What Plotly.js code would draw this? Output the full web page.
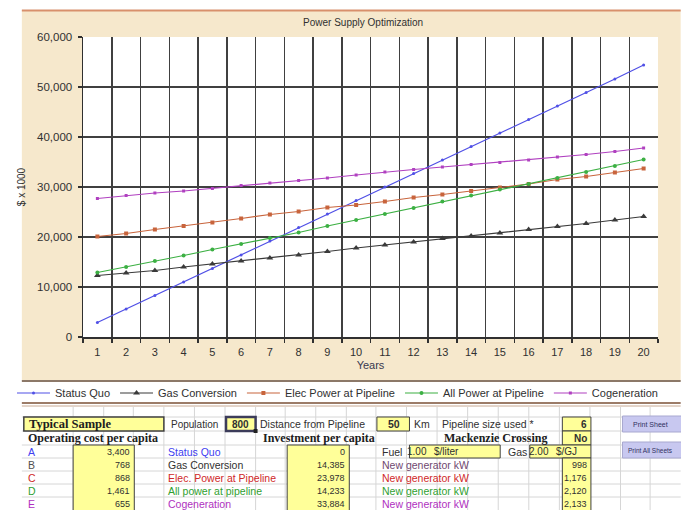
<!DOCTYPE html>
<html>
<head>
<meta charset="utf-8">
<script src="https://cdn.plot.ly/plotly-3.0.1.min.js"></script>
<style>
html,body{margin:0;padding:0;background:#fff;}
#chart{width:681px;height:510px;}
</style>
</head>
<body>
<div id="chart"></div>
<script>
// ---- data ----
const years = ['1','2','3','4','5','6','7','8','9','10','11','12','13','14','15','16','17','18','19','20'];
const statusQuo = [2900, 5600, 8300, 11000, 13700, 16400, 19200, 21900, 24600, 27300, 30000, 32700, 35400, 38100, 40800, 43500, 46200, 48900, 51600, 54400];
const gasConversion = [12300, 12800, 13300, 14000, 14600, 15200, 15800, 16400, 17100, 17800, 18400, 19000, 19700, 20200, 20800, 21500, 22100, 22700, 23400, 24100];
const elecPower = [20100, 20700, 21500, 22200, 22900, 23700, 24500, 25100, 25900, 26400, 27100, 27900, 28500, 29200, 29900, 30600, 31500, 32100, 32900, 33700];
const allPower = [12900, 14000, 15200, 16300, 17500, 18600, 19800, 20900, 22200, 23400, 24600, 25800, 27100, 28300, 29500, 30600, 31800, 33000, 34200, 35500];
const cogeneration = [27700, 28300, 28800, 29200, 29700, 30300, 30800, 31300, 31800, 32400, 33000, 33500, 34000, 34500, 34900, 35400, 36000, 36500, 37100, 37800];
const seriesNames = ['Status Quo', 'Gas Conversion', 'Elec Power at Pipeline', 'All Power at Pipeline', 'Cogeneration'];
const yTicks = [0, 10000, 20000, 30000, 40000, 50000, 60000];

// spreadsheet contents
const rowLetters = ['A', 'B', 'C', 'D', 'E'];
const rowNames = ['Status Quo', 'Gas Conversion', 'Elec. Power at Pipeline', 'All power at pipeline', 'Cogeneration'];
const opCost = ['3,400', '768', '868', '1,461', '655'];
const investment = ['0', '14,385', '23,978', '14,233', '33,884'];
const genLabels = ['New generator kW', 'New generator kW', 'New generator kW', 'New generator kW'];
const genKW = ['998', '1,176', '2,120', '2,133'];

// ---- style ----
const colors = ['#5050e6', '#3a3a3a', '#c8643c', '#3cb043', '#b040c0'];
const sheetColors = ['#4040f0', '#505050', '#d02828', '#30a030', '#b030c0'];
const genColors = ['#704870', '#d02828', '#30a030', '#b030c0'];
const symbols = ['circle', 'triangle-up', 'square', 'circle', 'square'];
const msize = [3, 6, 4, 4, 3];
const FONT = 'Liberation Sans, Arial, sans-serif';
const SERIF = 'Liberation Serif, Times New Roman, serif';

// pixel -> paper helpers (plot area 75..658 x 37..337)
const L = 75, R = 658, T = 37, B = 337;
const px = x => (x - L) / (R - L);
const py = y => (B - y) / (B - T);

const vals = [statusQuo, gasConversion, elecPower, allPower, cogeneration];
const traces = vals.map((v, i) => ({
  type: 'scatter', mode: 'lines+markers', x: years, y: v, name: seriesNames[i],
  line: {color: colors[i], width: 1.2},
  marker: {symbol: symbols[i], size: msize[i], color: colors[i]},
  hoverinfo: 'x+y+name'
}));

const shapes = [];
function rect(x0, y0, x1, y1, fill, lineColor, lw) {
  shapes.push({type: 'rect', xref: 'paper', yref: 'paper', layer: 'below',
    x0: px(x0), x1: px(x1), y0: py(y1), y1: py(y0),
    fillcolor: fill, line: {color: lineColor || 'rgba(0,0,0,0)', width: lw || 0}});
}
function hline(x0, x1, y, color, w) {
  shapes.push({type: 'line', xref: 'paper', yref: 'paper', layer: 'below',
    x0: px(x0), x1: px(x1), y0: py(y), y1: py(y), line: {color: color, width: w}});
}
function vline(x, y0, y1, color, w) {
  shapes.push({type: 'line', xref: 'paper', yref: 'paper', layer: 'below',
    x0: px(x), x1: px(x), y0: py(y0), y1: py(y1), line: {color: color, width: w}});
}

// chart area background
rect(13, 10, 681, 381, '#f6e8cc');
rect(L, T, R, B, '#ffffff');
hline(13, 681, 10.5, '#d8906c', 2);
hline(13, 681, 381, '#8c7868', 2);
// legend strip borders
hline(13, 681, 403, '#9c7c68', 2);
hline(13, 681, 406, '#c8aa94', 1);

// spreadsheet grid
const colLines = [65, 96, 126, 157, 188, 219, 250, 280, 311, 342, 372, 403, 434, 465, 496, 527, 558, 589, 620, 650];
colLines.forEach(x => vline(x, 407, 510, '#d6d6d6', 1));
const rowLines = [417, 431, 445, 458, 471, 484, 497];
rowLines.forEach(y => hline(13, 681, y, '#d6d6d6', 1));

// yellow cells and buttons
const YEL = '#ffff99';
rect(15, 417, 157, 431, YEL, '#404040', 1.5);
rect(220, 417, 250, 431, YEL, '#3c3c5a', 2.5);
rect(248, 429, 252, 433, '#222', '#222', 0);
rect(373, 417, 406, 431, YEL, '#404040', 1);
rect(561, 417, 590, 431, YEL, '#404040', 1);
rect(561, 431, 590, 445, YEL, '#404040', 1);
rect(65, 445, 127, 512, YEL, '#404040', 1);
rect(282, 445, 345, 512, YEL, '#404040', 1);
rect(406, 445, 498, 458, YEL, '#404040', 1);
rect(528, 445, 590, 458, YEL, '#404040', 1);
rect(561, 458, 590, 512, YEL, '#404040', 1);
rect(622, 416, 683, 432, '#c8c8f0', '#a8a8d0', 1);
rect(622, 442, 683, 458, '#c8c8f0', '#a8a8d0', 1);

const annotations = [];
function txt(x, y, s, o) {
  o = o || {};
  annotations.push({xref: 'paper', yref: 'paper', x: px(x), y: py(y), text: s, showarrow: false,
    xanchor: o.anchor || 'left', yanchor: 'middle',
    font: {family: o.family || FONT, size: o.size || 11, color: o.color || '#303030'}});
}
function bold(s) { return '<b>' + s + '</b>'; }

// row 1
txt(18, 424, bold('Typical Sample'), {family: SERIF, size: 12.5, color: '#202020'});
txt(162, 424, 'Population', {size: 10});
txt(235, 424, bold('800'), {anchor: 'center', size: 10});
txt(252, 424, 'Distance from Pipeline', {size: 10.5});
txt(390, 424, bold('50'), {anchor: 'center', size: 10.5});
txt(409, 424, 'Km', {size: 10.5});
txt(437, 424, 'Pipeline size used *', {size: 10.5});
txt(588, 424, bold('6'), {anchor: 'right', size: 10});
txt(650, 424, 'Print Sheet', {anchor: 'center', size: 7, color: '#303060'});
// row 2
txt(17, 438, bold('Operating cost per capita'), {family: SERIF, size: 12, color: '#202020'});
txt(255, 438, bold('Investment per capita'), {family: SERIF, size: 12, color: '#202020'});
txt(439, 438, bold('Mackenzie Crossing'), {family: SERIF, size: 12, color: '#202020'});
txt(588, 438, bold('No'), {anchor: 'right', size: 10});
// fuel / gas row
txt(376, 451.5, 'Fuel', {size: 10.5});
txt(426, 451.5, '1.00', {anchor: 'right', size: 10});
txt(429, 451.5, '$/liter', {size: 10});
txt(504, 451.5, 'Gas', {size: 10.5});
txt(550, 451.5, '2.00', {anchor: 'right', size: 10});
txt(553, 451.5, '$/GJ', {size: 10});
txt(650, 450, 'Print All Sheets', {anchor: 'center', size: 6.5, color: '#303060'});
// scenario rows
rowLetters.forEach((l, i) => {
  const y = 451.5 + i * 13;
  txt(17, y, l, {color: sheetColors[i], size: 10.5});
  txt(125, y, opCost[i], {anchor: 'right', size: 9});
  txt(159, y, rowNames[i], {color: i === 1 ? '#303030' : sheetColors[i], size: 10.5});
  txt(343, y, investment[i], {anchor: 'right', size: 9});
});
genLabels.forEach((g, i) => {
  const y = 464.5 + i * 13;
  txt(376, y, g, {color: genColors[i], size: 10.5});
  txt(588, y, genKW[i], {anchor: 'right', size: 9});
});

const layout = {
  width: 681, height: 510,
  margin: {l: L, r: 681 - R, t: T, b: 510 - B, pad: 0},
  paper_bgcolor: '#ffffff', plot_bgcolor: '#ffffff',
  font: {family: FONT, size: 11, color: '#303030'},
  title: {text: 'Power Supply Optimization', font: {family: FONT, size: 10, color: '#303030'},
          xref: 'paper', x: px(359), xanchor: 'center', yref: 'container', y: 1 - 22 / 510, yanchor: 'middle'},
  xaxis: {type: 'category', categoryorder: 'array', categoryarray: years, range: [-0.5, 19.5],
          tickson: 'boundaries', ticks: 'outside', ticklen: 4, tickcolor: '#303030', tickwidth: 1.5,
          ticklabelstandoff: 4,
          showgrid: true, gridcolor: '#404040', gridwidth: 1.5,
          showline: true, linecolor: '#303030', linewidth: 1.5,
          tickfont: {family: FONT, size: 11, color: '#303030'},
          title: {text: 'Years', font: {family: FONT, size: 11, color: '#383850'}, standoff: 4}},
  yaxis: {range: [0, 60000], tickvals: yTicks, tickformat: ',d', ticks: 'outside', ticklen: 4,
          tickcolor: '#303030', tickwidth: 1.5, ticklabelstandoff: 3,
          showgrid: true, gridcolor: '#404040', gridwidth: 1.5, zeroline: false,
          showline: true, linecolor: '#303030', linewidth: 1.5,
          tickfont: {family: FONT, size: 11.5, color: '#303030'},
          title: {text: '$ x 1000', font: {family: FONT, size: 10, color: '#303030'}, standoff: 9}},
  legend: {orientation: 'h', x: px(3), xanchor: 'left', y: py(393), yanchor: 'middle',
           bgcolor: 'rgba(0,0,0,0)', itemwidth: 33, font: {family: FONT, size: 11, color: '#303030'}},
  showlegend: true,
  shapes: shapes,
  annotations: annotations
};

Plotly.newPlot('chart', traces, layout, {displayModeBar: false, staticPlot: true});
</script>
</body>
</html>
